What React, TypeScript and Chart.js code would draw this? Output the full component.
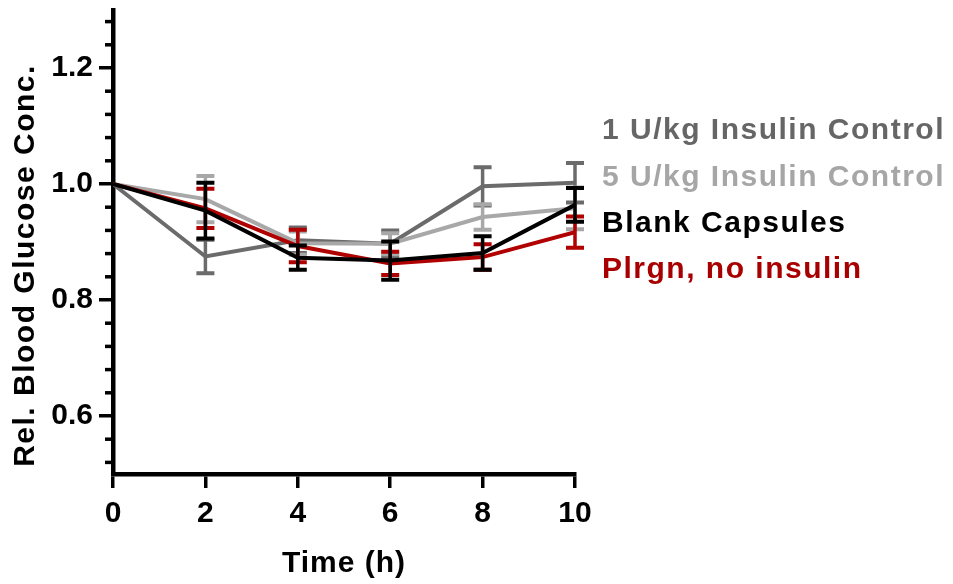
import { useEffect, useRef } from 'react';
import { Chart, registerables } from 'chart.js';

Chart.register(...registerables);

// ---- data ----
const timePoints = [0, 2, 4, 6, 8, 10];
const xTickValues = [0, 2, 4, 6, 8, 10];
const yMajorTicks = [0.6, 0.8, 1.0, 1.2];
const yMinorTicks = [0.52, 0.56, 0.64, 0.68, 0.72, 0.76, 0.84, 0.88, 0.92, 0.96, 1.04, 1.08, 1.12, 1.16, 1.24, 1.28];

const seriesNames = ['1 U/kg Insulin Control', '5 U/kg Insulin Control', 'Blank Capsules', 'Plrgn, no insulin'];

const insulin1Mean = [1.0, 0.875, 0.903, 0.897, 0.996, 1.002];
const insulin1Sem = [0, 0.029, 0.022, 0.023, 0.033, 0.034];

const insulin5Mean = [1.0, 0.974, 0.898, 0.897, 0.943, 0.958];
const insulin5Sem = [0, 0.040, 0.020, 0.018, 0.022, 0.036];

const blankMean = [1.0, 0.954, 0.873, 0.868, 0.881, 0.964];
const blankSem = [0, 0.048, 0.021, 0.033, 0.029, 0.029];

const plrgnMean = [1.0, 0.958, 0.893, 0.863, 0.874, 0.917];
const plrgnSem = [0, 0.034, 0.028, 0.020, 0.022, 0.027];

const xTitle = 'Time (h)';
const yTitle = 'Rel. Blood Glucose Conc.';

// ---- styles ----
const FONT = '"Liberation Sans", Arial, Helvetica, sans-serif';
const lineColors = ['#6b6b6b', '#a8a8a8', '#000000', '#b00000'];
const legendColors = ['#666666', '#a6a6a6', '#000000', '#a80000'];
const drawOrders = [4, 3, 1, 2];

const means = [insulin1Mean, insulin5Mean, blankMean, plrgnMean];
const sems = [insulin1Sem, insulin5Sem, blankSem, plrgnSem];

const errorBarPlugin = {
  id: 'errorBars',
  afterDatasetDraw(chart: any, args: any) {
    const ds = chart.data.datasets[args.index];
    const errs: number[] = ds.sem;
    if (!errs) return;
    const yScale = chart.scales.y;
    const ctx = chart.ctx;
    ctx.save();
    ctx.strokeStyle = ds.borderColor;
    ctx.lineCap = 'butt';
    args.meta.data.forEach((pt: any, j: number) => {
      const e = errs[j];
      if (!e) return;
      const v = ds.data[j].y;
      const yTop = yScale.getPixelForValue(v + e);
      const yBot = yScale.getPixelForValue(v - e);
      const x = pt.x;
      ctx.lineWidth = 3.5;
      ctx.beginPath();
      ctx.moveTo(x, yTop);
      ctx.lineTo(x, yBot);
      ctx.stroke();
      ctx.lineWidth = 4;
      ctx.beginPath();
      ctx.moveTo(x - 9, yTop);
      ctx.lineTo(x + 9, yTop);
      ctx.moveTo(x - 9, yBot);
      ctx.lineTo(x + 9, yBot);
      ctx.stroke();
    });
    ctx.restore();
  },
};

const decorPlugin = {
  id: 'decor',
  afterDraw(chart: any) {
    const ctx = chart.ctx;
    const yScale = chart.scales.y;
    const area = chart.chartArea;
    // minor ticks on y axis
    ctx.save();
    ctx.strokeStyle = '#000';
    ctx.lineWidth = 3.5;
    yMinorTicks.forEach((v) => {
      const y = yScale.getPixelForValue(v);
      ctx.beginPath();
      ctx.moveTo(area.left - 8, y);
      ctx.lineTo(area.left - 2, y);
      ctx.stroke();
    });
    ctx.restore();

    // axis titles
    ctx.save();
    ctx.fillStyle = '#000';
    ctx.font = `bold 30px ${FONT}`;
    (ctx as any).letterSpacing = '1px';
    ctx.textAlign = 'center';
    ctx.textBaseline = 'alphabetic';
    ctx.fillText(xTitle, (area.left + area.right) / 2, 572);
    ctx.restore();

    ctx.save();
    ctx.fillStyle = '#000';
    ctx.font = `bold 30px ${FONT}`;
    (ctx as any).letterSpacing = '1.5px';
    ctx.textAlign = 'center';
    ctx.textBaseline = 'alphabetic';
    ctx.translate(33.5, 265.5);
    ctx.rotate(-Math.PI / 2);
    ctx.fillText(yTitle, 0, 0);
    ctx.restore();

    // legend
    ctx.save();
    ctx.font = `bold 30px ${FONT}`;
    (ctx as any).letterSpacing = '1.5px';
    ctx.textAlign = 'left';
    ctx.textBaseline = 'middle';
    seriesNames.forEach((name, i) => {
      ctx.fillStyle = legendColors[i];
      ctx.fillText(name, 602, 131 + i * 46.3);
    });
    ctx.restore();
  },
};

export default function App() {
  const ref = useRef<HTMLCanvasElement>(null);

  useEffect(() => {
    const canvas = ref.current;
    if (!canvas) return;
    const tickFont = { family: FONT, size: 30, weight: 'bold' as const };
    const chart = new Chart(canvas, {
      type: 'line',
      data: {
        datasets: seriesNames.map((name, i) => ({
          label: name,
          data: timePoints.map((t, j) => ({ x: t, y: means[i][j] })),
          sem: sems[i],
          borderColor: lineColors[i],
          backgroundColor: lineColors[i],
          borderWidth: 4,
          pointRadius: 0,
          tension: 0,
          fill: false,
          order: drawOrders[i],
        })) as any,
      },
      options: {
        animation: false,
        responsive: true,
        maintainAspectRatio: false,
        layout: { padding: { top: 10, right: 378, left: 0, bottom: 0 } },
        plugins: {
          legend: { display: false },
          tooltip: { enabled: false },
        },
        scales: {
          x: {
            type: 'linear',
            min: 0,
            max: 10,
            afterBuildTicks: (s: any) => {
              s.ticks = xTickValues.map((v) => ({ value: v }));
            },
            afterFit: (s: any) => {
              s.height = 110;
              s.paddingLeft = 0;
              s.paddingRight = 0;
            },
            ticks: {
              font: tickFont,
              color: '#000',
              padding: 8,
              maxRotation: 0,
              autoSkip: false,
              callback: (v: any) => String(v),
            },
            grid: { drawOnChartArea: false, tickLength: 14, lineWidth: 3.5, color: '#000' },
            border: { display: true, width: 4.5, color: '#000' },
          },
          y: {
            type: 'linear',
            min: 0.5,
            max: 1.3,
            afterBuildTicks: (s: any) => {
              s.ticks = yMajorTicks.map((v) => ({ value: v }));
            },
            afterFit: (s: any) => {
              s.width = 113;
              s.paddingTop = 0;
              s.paddingBottom = 0;
            },
            ticks: {
              font: tickFont,
              color: '#000',
              padding: 6,
              autoSkip: false,
              callback: (v: any) => Number(v).toFixed(1),
            },
            grid: { drawOnChartArea: false, tickLength: 14, lineWidth: 3.5, color: '#000' },
            border: { display: true, width: 4.5, color: '#000' },
          },
        },
      } as any,
      plugins: [errorBarPlugin, decorPlugin],
    });
    return () => chart.destroy();
  }, []);

  return (
    <div style={{ position: 'fixed', left: 0, top: 0, width: 953, height: 584, background: '#fff' }}>
      <canvas ref={ref} />
    </div>
  );
}
